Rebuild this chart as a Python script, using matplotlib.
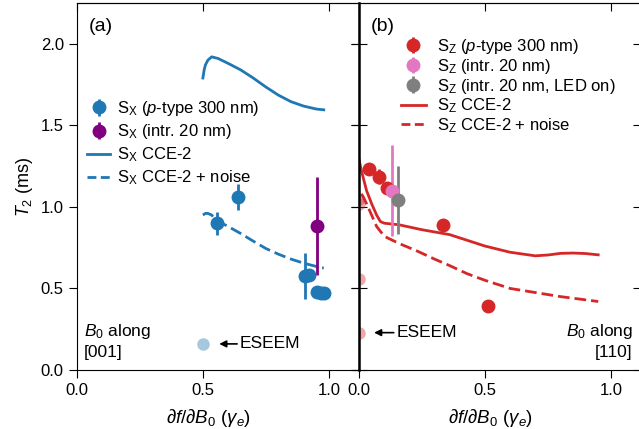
import numpy as np
import matplotlib.pyplot as plt

plt.rcParams['font.family'] = ['Liberation Sans', 'DejaVu Sans']
plt.rcParams['mathtext.fontset'] = 'custom'
plt.rcParams['mathtext.rm'] = 'Liberation Sans'
plt.rcParams['mathtext.it'] = 'Liberation Sans:italic'
plt.rcParams['mathtext.bf'] = 'Liberation Sans:bold'

blue = '#1f77b4'
purple = '#800080'
red = '#d62728'
pink = '#e377c2'
gray = '#7f7f7f'

# (a) S_X, B0 along [001]
sx_p_x = [0.556, 0.64, 0.905, 0.92, 0.955, 0.968, 0.982]
sx_p_y = [0.90, 1.063, 0.577, 0.585, 0.48, 0.472, 0.47]
sx_p_err = [0.07, 0.08, 0.14, 0.03, 0.02, 0.02, 0.02]
sx_i_x = [0.954]
sx_i_y = [0.883]
sx_i_err = [0.30]
sx_eseem_x = [0.50]
sx_eseem_y = [0.16]

sx_cce_x = [0.50, 0.505, 0.51, 0.52, 0.535, 0.56, 0.60, 0.65, 0.70, 0.75, 0.80, 0.85, 0.90, 0.95, 0.98]
sx_cce_y = [1.79, 1.84, 1.87, 1.90, 1.92, 1.91, 1.88, 1.84, 1.79, 1.735, 1.685, 1.645, 1.618, 1.60, 1.595]
sx_noise_x = [0.50, 0.51, 0.52, 0.535, 0.55, 0.60, 0.65, 0.70, 0.75, 0.80, 0.85, 0.90, 0.95, 0.98]
sx_noise_y = [0.95, 0.96, 0.96, 0.95, 0.92, 0.88, 0.837, 0.79, 0.745, 0.71, 0.68, 0.655, 0.635, 0.625]

# (b) S_Z, B0 along [110]
sz_p_x = [0.041, 0.080, 0.112, 0.333, 0.511]
sz_p_y = [1.231, 1.186, 1.115, 0.89, 0.393]
sz_p_err = [0.035, 0.045, 0.03, 0.02, 0.02]
sz_i_x = [0.133]
sz_i_y = [1.10]
sz_i_err = [0.28]
sz_led_x = [0.155]
sz_led_y = [1.043]
sz_led_err = [0.21]
sz_eseem_x = [0.0, 0.0, 0.0, 0.0]
sz_eseem_y = [1.05, 1.02, 0.556, 0.229]

sz_cce_x = [0.0, 0.01, 0.03, 0.05, 0.07, 0.085, 0.10, 0.16, 0.25, 0.36, 0.45, 0.50, 0.60, 0.70, 0.75, 0.80, 0.85, 0.90, 0.95]
sz_cce_y = [1.29, 1.22, 1.10, 1.02, 0.95, 0.91, 0.90, 0.89, 0.86, 0.83, 0.785, 0.76, 0.722, 0.70, 0.705, 0.715, 0.717, 0.714, 0.706]
sz_noise_x = [0.01, 0.03, 0.05, 0.07, 0.10, 0.16, 0.23, 0.30, 0.36, 0.43, 0.50, 0.60, 0.70, 0.80, 0.90, 0.95]
sz_noise_y = [1.08, 1.02, 0.95, 0.88, 0.82, 0.775, 0.73, 0.68, 0.64, 0.59, 0.55, 0.50, 0.475, 0.45, 0.43, 0.42]

fig = plt.figure(figsize=(6.39, 4.29), dpi=100)
ax1 = fig.add_axes([77/639, 59/429, 282/639, 367/429])
ax2 = fig.add_axes([359/639, 59/429, 282/639, 367/429])

ms = 9
ew = 2
dash = (4.2, 1.8)
leg_dash = (3.2, 1.6)

# left panel
ax1.plot(sx_cce_x, sx_cce_y, '-', color=blue, lw=2)
ax1.plot(sx_noise_x, sx_noise_y, '--', color=blue, lw=2, dashes=dash)
h1 = ax1.errorbar(sx_p_x, sx_p_y, yerr=sx_p_err, fmt='o', color=blue, ms=ms, elinewidth=ew)
h2 = ax1.errorbar(sx_i_x, sx_i_y, yerr=sx_i_err, fmt='o', color=purple, ms=ms, elinewidth=ew)
ax1.plot(sx_eseem_x, sx_eseem_y, 'o', color=blue, alpha=0.4, ms=ms, mec='none')
l1, = ax1.plot([], [], '-', color=blue, lw=2)
l2, = ax1.plot([], [], '--', color=blue, lw=2, dashes=leg_dash)
ax1.legend([h1, h2, l1, l2],
           [r'S$_\mathrm{X}$ ($p$-type 300 nm)', r'S$_\mathrm{X}$ (intr. 20 nm)',
            r'S$_\mathrm{X}$ CCE-2', r'S$_\mathrm{X}$ CCE-2 + noise'],
           loc='upper left', bbox_to_anchor=(0.0, 0.765), frameon=False, fontsize=12,
           handlelength=1.4, handletextpad=0.4, labelspacing=0.25, borderaxespad=0.2)
ax1.annotate('ESEEM', xy=(0.565, 0.16), xytext=(0.647, 0.16), fontsize=12.5, va='center',
             arrowprops=dict(arrowstyle='-|>', color='black', lw=1.2, mutation_scale=10, shrinkA=0, shrinkB=0))
ax1.text(0.025, 0.079, '$B_0$ along\n[001]', transform=ax1.transAxes, fontsize=12.5, va='center', ha='left',
         linespacing=1.3)
ax1.text(0.04, 0.96, '(a)', transform=ax1.transAxes, fontsize=14, va='top')
ax1.set_ylabel('$T_2$ (ms)', fontsize=13)

# right panel
ax2.plot(sz_cce_x, sz_cce_y, '-', color=red, lw=2)
ax2.plot(sz_noise_x, sz_noise_y, '--', color=red, lw=2, dashes=dash)
ax2.plot(sz_eseem_x, sz_eseem_y, 'o', color=red, alpha=0.4, ms=ms, mec='none')
h3 = ax2.errorbar(sz_p_x, sz_p_y, yerr=sz_p_err, fmt='o', color=red, ms=ms, elinewidth=ew)
h4 = ax2.errorbar(sz_i_x, sz_i_y, yerr=sz_i_err, fmt='o', color=pink, ms=ms, elinewidth=ew)
h5 = ax2.errorbar(sz_led_x, sz_led_y, yerr=sz_led_err, fmt='o', color=gray, ms=ms, elinewidth=ew)
l3, = ax2.plot([], [], '-', color=red, lw=2)
l4, = ax2.plot([], [], '--', color=red, lw=2, dashes=leg_dash)
ax2.legend([h3, h4, h5, l3, l4],
           [r'S$_\mathrm{Z}$ ($p$-type 300 nm)', r'S$_\mathrm{Z}$ (intr. 20 nm)',
            r'S$_\mathrm{Z}$ (intr. 20 nm, LED on)', r'S$_\mathrm{Z}$ CCE-2', r'S$_\mathrm{Z}$ CCE-2 + noise'],
           loc='upper left', bbox_to_anchor=(0.112, 0.935), frameon=False, fontsize=12,
           handlelength=1.5, handletextpad=0.7, labelspacing=0.05, borderaxespad=0.2)
ax2.annotate('ESEEM', xy=(0.06, 0.229), xytext=(0.149, 0.229), fontsize=12.5, va='center',
             arrowprops=dict(arrowstyle='-|>', color='black', lw=1.2, mutation_scale=10, shrinkA=0, shrinkB=0))
ax2.text(0.97, 0.079, '$B_0$ along\n[110]', transform=ax2.transAxes, fontsize=12.5, va='center', ha='right',
         multialignment='right', linespacing=1.3)
ax2.text(0.04, 0.96, '(b)', transform=ax2.transAxes, fontsize=14, va='top')
ax2.spines['left'].set_linewidth(1.8)
ax2.spines['left'].set_zorder(5)

for ax in (ax1, ax2):
    ax.set_xlim(0, 1.12)
    ax.set_ylim(0, 2.25)
    ax.set_xticks([0.0, 0.5, 1.0])
    ax.set_yticks([0.0, 0.5, 1.0, 1.5, 2.0])
    ax.tick_params(direction='out', length=6, labelsize=12)
    ax.set_xlabel(r'$\partial f / \partial B_0$ ($\gamma_e$)', fontsize=13.5)
    ax.xaxis.set_label_coords(0.465, -0.1)
    top = ax.secondary_xaxis('top')
    top.set_xticks([0.0, 0.5, 1.0])
    top.tick_params(direction='in', length=6, labeltop=False)
    right = ax.secondary_yaxis('right')
    right.set_yticks([0.0, 0.5, 1.0, 1.5, 2.0])
    right.tick_params(direction='in', length=6, labelright=False)

ax2.tick_params(axis='y', direction='inout', length=12, labelleft=False)

fig.savefig('out.png', dpi=100)
